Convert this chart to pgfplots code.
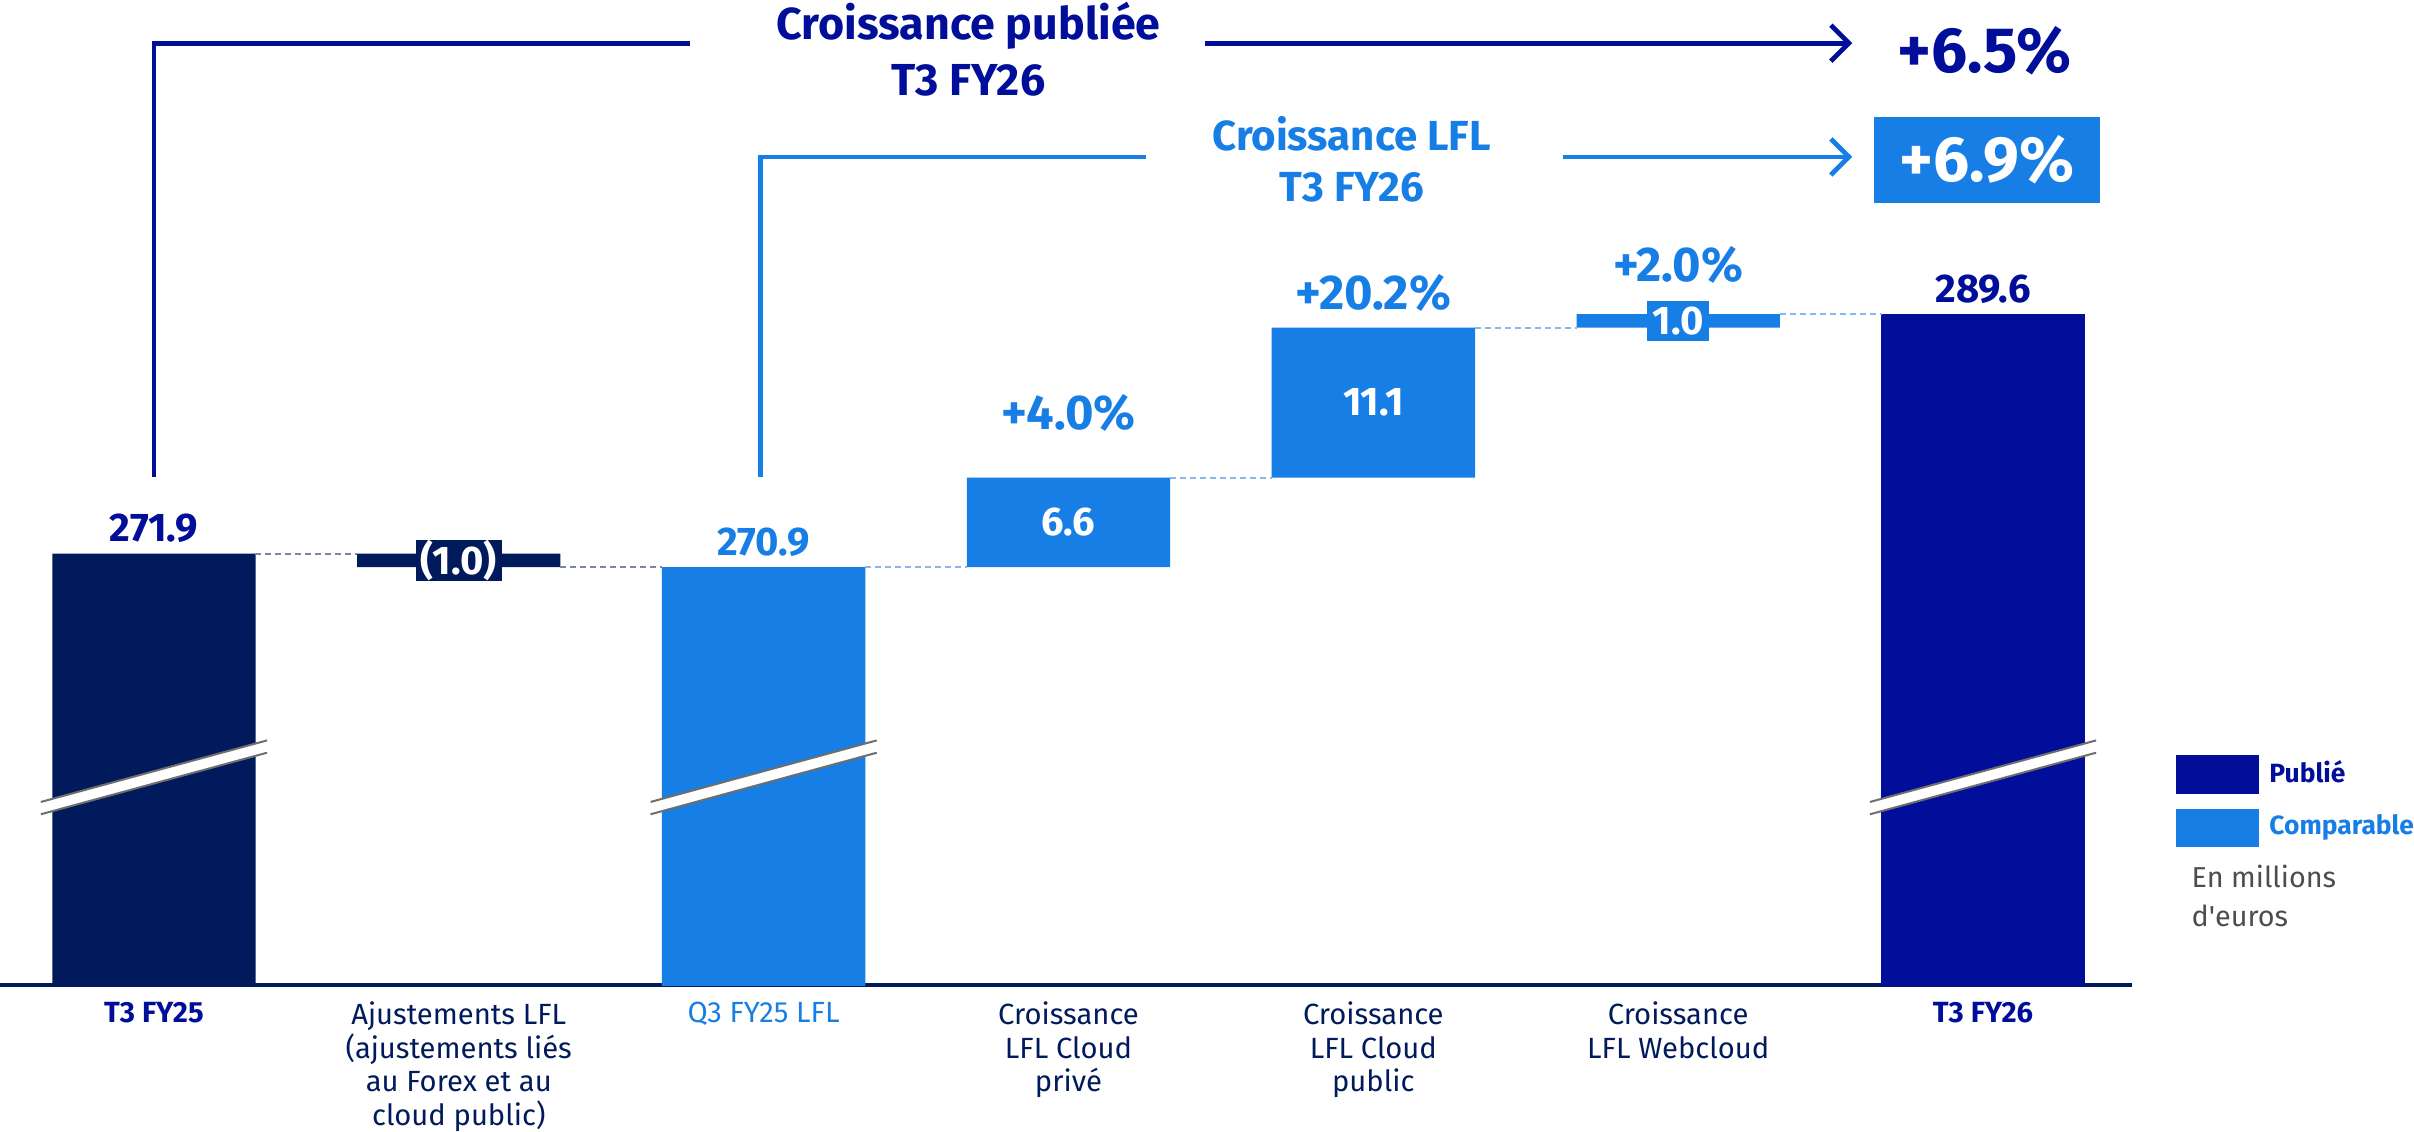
\documentclass[border=0pt]{standalone}
\usepackage{pgfplots}
\pgfplotsset{compat=1.18}
\usepackage{fontspec}
\setmainfont{Fira Sans}
\usetikzlibrary{arrows.meta}
\definecolor{navyD}{HTML}{001A5C}
\definecolor{pubc}{HTML}{000E9A}
\definecolor{lfl}{HTML}{177EE6}
\definecolor{cgray}{HTML}{7A86A8}
\definecolor{clight}{HTML}{85B8F0}
\definecolor{txtgray}{HTML}{4D4D4D}
\definecolor{brkgray}{HTML}{6E6E6E}
\tikzset{
  vl/.style={font=\fontsize{10}{11}\selectfont\bfseries, inner sep=0pt},
  pl/.style={font=\fontsize{12.2}{14}\selectfont\bfseries, inner sep=0pt, text=lfl},
  conn/.style={line width=0.5pt, dash pattern=on 1.5pt off 1pt},
  brk/.style={brkgray, line width=0.5pt},
}
\pgfplotsset{base/.style={scale only axis, width=533.1pt, height=246.3pt,
  xmin=-0.505, xmax=6.49, ymin=240, ymax=312.81}}
\begin{document}
\begin{tikzpicture}
\begin{axis}[
  base,
  axis x line*=bottom, axis y line=none,
  x axis line style={draw=navyD, line width=0.9pt, -},
  ybar stacked, bar width=0.667,
  xtick={0,1,2,3,4,5,6}, major tick length=0pt,
  ytick=\empty,
  xticklabels={{\textcolor{pubc}{\bfseries T3 FY25}}, {Ajustements LFL\\(ajustements liés\\au Forex et au\\cloud public)}, {\textcolor{lfl}{Q3 FY25 LFL}}, {Croissance\\LFL Cloud\\privé}, {Croissance\\LFL Cloud\\public}, {Croissance\\LFL Webcloud}, {\textcolor{pubc}{\bfseries T3 FY26}}},
  xticklabel style={align=center, anchor=north, inner sep=0pt, yshift=-4pt, text=navyD, font=\fontsize{7.3}{8.4}\selectfont},
  legend style={at={(rel axis cs:1.0202,0.234)}, anchor=north west, draw=none, fill=none, inner sep=0pt, row sep=3.7pt, font=\fontsize{6.6}{8}\selectfont\bfseries, cells={anchor=west}, nodes={inner xsep=2.5pt, inner ysep=0pt}},
]
\addlegendimage{legend image code/.code={\fill[pubc] (0pt,-4.6pt) rectangle (20.4pt,4.6pt);}}
\addlegendentry{\textcolor{pubc}{Publié}}
\addlegendimage{legend image code/.code={\fill[lfl] (0pt,-4.6pt) rectangle (20.4pt,4.6pt);}}
\addlegendentry{\textcolor{lfl}{Comparable}}

\addplot[draw=none, fill=none, forget plot] coordinates {(0,0) (1,270.9) (2,0) (3,270.9) (4,277.5) (5,288.6) (6,0)};
\addplot[draw=none, fill=navyD, forget plot] coordinates {(0,271.9) (1,1.0) (2,0) (3,0) (4,0) (5,0) (6,0)};
\addplot[draw=none, fill=lfl, forget plot] coordinates {(0,0) (1,0) (2,270.9) (3,6.6) (4,11.1) (5,1.0) (6,0)};
\addplot[draw=none, fill=pubc, forget plot] coordinates {(0,0) (1,0) (2,0) (3,0) (4,0) (5,0) (6,289.6)};
\end{axis}
\begin{axis}[base, hide axis, clip=false]
% connectors
\draw[conn, cgray] (axis cs:0.333,271.9) -- (axis cs:0.667,271.9);
\draw[conn, cgray] (axis cs:1.333,270.9) -- (axis cs:1.667,270.9);
\draw[conn, clight] (axis cs:2.333,270.9) -- (axis cs:2.667,270.9);
\draw[conn, clight] (axis cs:3.333,277.5) -- (axis cs:3.667,277.5);
\draw[conn, clight] (axis cs:4.333,288.6) -- (axis cs:4.667,288.6);
\draw[conn, clight] (axis cs:5.333,289.6) -- (axis cs:5.667,289.6);

% axis breaks
\fill[white] (axis cs:-0.371,253.54) -- (axis cs:0.371,258.09) -- (axis cs:0.371,257.18) -- (axis cs:-0.371,252.63) -- cycle;
\draw[brk] (axis cs:-0.371,253.54) -- (axis cs:0.371,258.09);
\draw[brk] (axis cs:-0.371,252.63) -- (axis cs:0.371,257.18);
\fill[white] (axis cs:1.629,253.54) -- (axis cs:2.371,258.09) -- (axis cs:2.371,257.18) -- (axis cs:1.629,252.63) -- cycle;
\draw[brk] (axis cs:1.629,253.54) -- (axis cs:2.371,258.09);
\draw[brk] (axis cs:1.629,252.63) -- (axis cs:2.371,257.18);
\fill[white] (axis cs:5.629,253.54) -- (axis cs:6.371,258.09) -- (axis cs:6.371,257.18) -- (axis cs:5.629,252.63) -- cycle;
\draw[brk] (axis cs:5.629,253.54) -- (axis cs:6.371,258.09);
\draw[brk] (axis cs:5.629,252.63) -- (axis cs:6.371,257.18);

% brackets
\draw[pubc, line width=1.2pt] (axis cs:0,277.54) |- (axis cs:1.758,309.62);
\draw[pubc, line width=1.2pt, -{Straight Barb[length=4.5pt,width=9pt]}] (axis cs:3.449,309.62) -- (axis cs:5.571,309.62);
\node[align=center, font=\fontsize{11.2}{13.8}\selectfont\bfseries, text=pubc, inner sep=0pt] at (axis cs:2.672,309.17) {Croissance publiée\\T3 FY26};
\node[font=\fontsize{16}{18}\selectfont\bfseries, text=pubc, inner sep=0pt] at (axis cs:6.005,309.06) {+6.5\%};

\draw[lfl, line width=1.2pt] (axis cs:1.99,277.54) |- (axis cs:3.253,301.21);
\draw[lfl, line width=1.2pt, -{Straight Barb[length=4.5pt,width=9pt]}] (axis cs:4.621,301.21) -- (axis cs:5.571,301.21);
\node[align=center, font=\fontsize{10.5}{12.7}\selectfont\bfseries, text=lfl, inner sep=0pt] at (axis cs:3.929,301.04) {Croissance LFL\\T3 FY26};
\node[font=\fontsize{16}{18}\selectfont\bfseries, text=white, fill=lfl, inner sep=0pt, minimum width=56.6pt, minimum height=21.6pt] at (axis cs:6.0125,300.975) {+6.9\%};

% value labels
\node[vl, text=pubc] at (axis cs:0,273.79) {271.9};
\node[vl, text=white, fill=navyD, minimum width=21.6pt, minimum height=9.8pt] at (axis cs:1,271.4) {(1.0)};
\node[vl, text=lfl] at (axis cs:2,272.76) {270.9};
\node[pl] at (axis cs:3,282.32) {+4.0\%};
\node[vl, text=white] at (axis cs:3,274.2) {6.6};
\node[pl] at (axis cs:4,291.19) {+20.2\%};
\node[vl, text=white] at (axis cs:4,283.05) {11.1};
\node[pl] at (axis cs:5,293.24) {+2.0\%};
\node[vl, text=white, fill=lfl, minimum width=15.5pt, minimum height=10pt] at (axis cs:5,289.1) {1.0};
\node[vl, text=pubc] at (axis cs:6,291.42) {289.6};

\node[anchor=north west, align=left, font=\fontsize{7.2}{9.8}\selectfont, text=txtgray, inner sep=0pt] at (rel axis cs:1.0274,0.123) {En millions\\d\textquotesingle euros};
\end{axis}
\pgfresetboundingbox
\path (0pt,-36.57pt) rectangle (603.5pt,246.3pt);
\end{tikzpicture}
\end{document}
